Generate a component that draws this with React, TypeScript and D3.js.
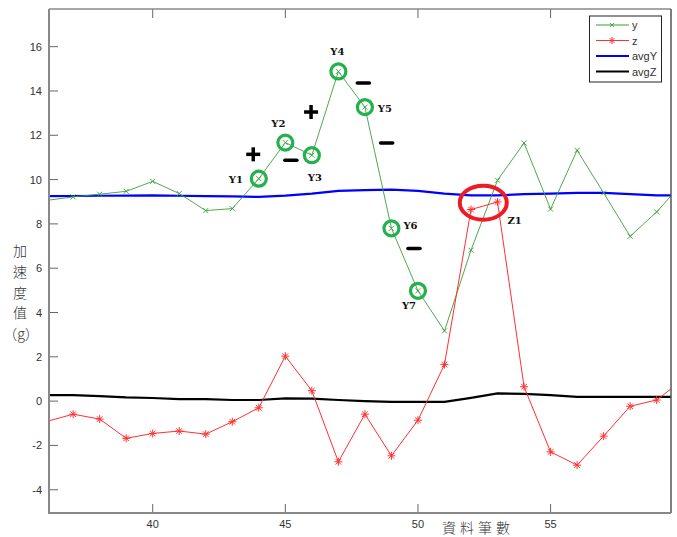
import React from 'react'
import * as d3 from 'd3'

const xs = [36, 37, 38, 39, 40, 41, 42, 43, 44, 45, 46, 47, 48, 49, 50, 51, 52, 53, 54, 55, 56, 57, 58, 59, 60]
const yVals = [9.06, 9.22, 9.34, 9.47, 9.92, 9.37, 8.6, 8.69, 10.04, 11.67, 11.1, 14.88, 13.27, 7.8, 4.98, 3.17, 6.81, 9.97, 11.65, 8.67, 11.32, 9.4, 7.44, 8.54, 9.88]
const zVals = [-0.92, -0.59, -0.81, -1.68, -1.46, -1.35, -1.49, -0.93, -0.3, 2.03, 0.47, -2.74, -0.59, -2.47, -0.86, 1.65, 8.65, 8.99, 0.65, -2.29, -2.89, -1.58, -0.23, 0.05, 0.98]
const avgY = [9.25, 9.26, 9.27, 9.28, 9.29, 9.27, 9.25, 9.24, 9.22, 9.28, 9.37, 9.49, 9.52, 9.55, 9.49, 9.37, 9.29, 9.29, 9.34, 9.37, 9.4, 9.4, 9.34, 9.29, 9.29]
const avgZ = [0.27, 0.27, 0.23, 0.17, 0.14, 0.09, 0.09, 0.05, 0.05, 0.12, 0.11, 0.05, 0.0, -0.03, -0.03, -0.03, 0.15, 0.35, 0.33, 0.27, 0.19, 0.19, 0.19, 0.19, 0.19]

const xTicks = [40, 45, 50, 55]
const yTicks = [-4, -2, 0, 2, 4, 6, 8, 10, 12, 14, 16]

// circled points on y, with label
const yMarks = [
  { x: 44, label: 'Y1', dx: -23, dy: 4 },
  { x: 45, label: 'Y2', dx: -7, dy: -16 },
  { x: 46, label: 'Y3', dx: 3, dy: 26 },
  { x: 47, label: 'Y4', dx: -1, dy: -16 },
  { x: 48, label: 'Y5', dx: 20, dy: 5 },
  { x: 49, label: 'Y6', dx: 19, dy: 1 },
  { x: 50, label: 'Y7', dx: -9, dy: 18 },
]
const signs = [
  { x: 43.79, y: 11.14, s: '+' },
  { x: 45.21, y: 10.87, s: '-' },
  { x: 45.97, y: 13.05, s: '+' },
  { x: 47.94, y: 14.36, s: '-' },
  { x: 48.82, y: 11.65, s: '-' },
  { x: 49.85, y: 6.89, s: '-' },
]
const legendItems = [
  { name: 'y', color: '#3a9e3a', marker: 'x', width: 1 },
  { name: 'z', color: '#ff3030', marker: '*', width: 1 },
  { name: 'avgY', color: '#0000ff', marker: '', width: 2.2 },
  { name: 'avgZ', color: '#000000', marker: '', width: 2.2 },
]
const yLabelChars = ['加', '速', '度', '值', '（g）']

const W = 677
const H = 537
const m = { left: 49, top: 9, right: 671, bottom: 513 }

function XMark({ cx, cy, color, r = 2.5 }: { cx: number; cy: number; color: string; r?: number }) {
  return (
    <path
      d={`M${cx - r},${cy - r}L${cx + r},${cy + r}M${cx - r},${cy + r}L${cx + r},${cy - r}`}
      stroke={color}
      strokeWidth={0.9}
    />
  )
}

function StarMark({ cx, cy, color, r = 4 }: { cx: number; cy: number; color: string; r?: number }) {
  const d = r * 0.7
  return (
    <path
      d={`M${cx - r},${cy}L${cx + r},${cy}M${cx},${cy - r}L${cx},${cy + r}M${cx - d},${cy - d}L${cx + d},${cy + d}M${cx - d},${cy + d}L${cx + d},${cy - d}`}
      stroke={color}
      strokeWidth={1}
    />
  )
}

export default function App() {
  const x = d3.scaleLinear().domain([36.09, 59.54]).range([m.left, m.right])
  const y = d3.scaleLinear().domain([-5.05, 17.7]).range([m.bottom, m.top])

  const line = (vals: number[]) =>
    d3
      .line<number>()
      .x((_, i) => x(xs[i]))
      .y((d) => y(d))(vals) || ''

  const inside = (i: number) => xs[i] >= 36.09 && xs[i] <= 59.54
  const idx = (v: number) => xs.indexOf(v)

  return (
    <svg width={W} height={H} style={{ position: 'absolute', left: 0, top: 0, background: '#fff' }} fontFamily="Liberation Sans, Arial, sans-serif">
      <defs>
        <clipPath id="plot">
          <rect x={m.left} y={m.top} width={m.right - m.left} height={m.bottom - m.top} />
        </clipPath>
      </defs>

      {/* ticks */}
      {yTicks.map((t) => (
        <g key={'y' + t}>
          <line x1={m.left} x2={m.left + 9} y1={y(t)} y2={y(t)} stroke="#666" strokeWidth={1} />
          <text x={m.left - 7} y={y(t) + 4} textAnchor="end" fontSize={11} fill="#333">
            {t}
          </text>
        </g>
      ))}
      {xTicks.map((t) => (
        <g key={'x' + t}>
          <line x1={x(t)} x2={x(t)} y1={m.bottom} y2={m.bottom - 9} stroke="#666" strokeWidth={1} />
          <line x1={x(t)} x2={x(t)} y1={m.top} y2={m.top + 9} stroke="#666" strokeWidth={1} />
          <text x={x(t)} y={m.bottom + 15} textAnchor="middle" fontSize={11} fill="#333">
            {t}
          </text>
        </g>
      ))}

      <g clipPath="url(#plot)">
        <path d={line(avgY)} fill="none" stroke="#0000ff" strokeWidth={2.2} />
        <path d={line(avgZ)} fill="none" stroke="#000" strokeWidth={2.2} />
        <path d={line(yVals)} fill="none" stroke="#3a9e3a" strokeWidth={0.9} />
        <path d={line(zVals)} fill="none" stroke="#ff3030" strokeWidth={1} />
        {xs.map((v, i) =>
          inside(i) ? <XMark key={'gx' + v} cx={x(v)} cy={y(yVals[i])} color="#3a9e3a" /> : null
        )}
        {xs.map((v, i) =>
          inside(i) ? <StarMark key={'rz' + v} cx={x(v)} cy={y(zVals[i])} color="#ff3030" /> : null
        )}
      </g>

      {/* frame */}
      <line x1={m.left} x2={m.right} y1={m.top} y2={m.top} stroke="#888" strokeWidth={1.5} />
      <line x1={m.right} x2={m.right} y1={m.top} y2={m.bottom} stroke="#555" strokeWidth={1.5} />
      <line x1={m.left} x2={m.left} y1={m.top} y2={m.bottom + 1} stroke="#888" strokeWidth={2} />
      <line x1={m.left} x2={m.right} y1={m.bottom} y2={m.bottom} stroke="#888" strokeWidth={2} />

      {/* annotations */}
      {yMarks.map((a) => {
        const cx = x(a.x)
        const cy = y(yVals[idx(a.x)])
        return (
          <g key={a.label}>
            <circle cx={cx} cy={cy} r={7.5} fill="none" stroke="#22b14c" strokeWidth={3.2} />
            <text
              x={cx + a.dx}
              y={cy + a.dy}
              textAnchor="middle"
              fontFamily="DejaVu Serif, Liberation Serif, serif"
              fontWeight="bold"
              fontSize={10}
              fill="#111"
            >
              {a.label}
            </text>
          </g>
        )
      })}
      {signs.map((s, i) =>
        s.s === '+' ? (
          <g key={'s' + i} stroke="#000" strokeWidth={3.5}>
            <line x1={x(s.x) - 7} x2={x(s.x) + 7} y1={y(s.y)} y2={y(s.y)} />
            <line x1={x(s.x)} x2={x(s.x)} y1={y(s.y) - 7} y2={y(s.y) + 7} />
          </g>
        ) : (
          <line key={'s' + i} x1={x(s.x) - 6} x2={x(s.x) + 6} y1={y(s.y)} y2={y(s.y)} stroke="#000" strokeWidth={3.6} strokeLinecap="round" />
        )
      )}
      <ellipse
        cx={(x(52) + x(53)) / 2 - 1}
        cy={(y(zVals[idx(52)]) + y(zVals[idx(53)])) / 2 - 3}
        rx={23.5}
        ry={17}
        fill="none"
        stroke="#ed1c24"
        strokeWidth={4}
      />
      <text
        x={x(53) + 17}
        y={y(zVals[idx(53)]) + 22}
        textAnchor="middle"
        fontFamily="DejaVu Serif, Liberation Serif, serif"
        fontWeight="bold"
        fontSize={10}
        fill="#111"
      >
        Z1
      </text>

      {/* legend */}
      <rect x={589.5} y={16} width={72} height={66} fill="#fff" stroke="#222" strokeWidth={1} />
      {legendItems.map((d, i) => {
        const ly = 25 + i * 15.5
        return (
          <g key={d.name}>
            <line x1={596} x2={629} y1={ly} y2={ly} stroke={d.color} strokeWidth={d.width} />
            {d.marker === 'x' && <XMark cx={612} cy={ly} color={d.color} r={2} />}
            {d.marker === '*' && <StarMark cx={612} cy={ly} color={d.color} r={3.5} />}
            <text x={632} y={ly + 4} fontSize={11} fill="#333">
              {d.name}
            </text>
          </g>
        )
      })}

      {/* axis labels */}
      {yLabelChars.map((c, i) => (
        <text
          key={c}
          x={i === 4 ? 21 : 20}
          y={256 + i * 20.8}
          textAnchor="middle"
          fontFamily="Noto Sans CJK TC, sans-serif"
          fontSize={14}
          fontWeight={300}
          fill="#333"
        >
          {c}
        </text>
      ))}
      <text x={478} y={533} textAnchor="middle" fontFamily="Noto Sans CJK TC, sans-serif" fontSize={14} fontWeight={300} letterSpacing={4} fill="#333">
        資料筆數
      </text>
    </svg>
  )
}
